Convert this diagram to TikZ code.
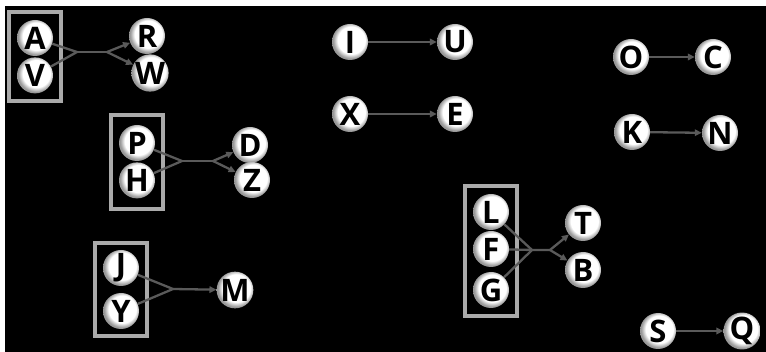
\documentclass[tikz,border=0pt]{standalone}
\usepackage{fontspec}
\setsansfont{Open Sans}
\usetikzlibrary{arrows.meta,positioning,fit}
\definecolor{linkgray}{HTML}{5A5A5A}
\definecolor{boxgray}{HTML}{AAAAAA}
% white ball with a grey rim, lighter towards the upper right
\pgfdeclareradialshading{letterball}{\pgfpoint{3bp}{4bp}}{color(0bp)=(white); color(19bp)=(white); color(25bp)=(black!40); color(50bp)=(black!40)}

\begin{document}
\begin{tikzpicture}[x=1pt,y=-1pt,
  ltr/.style={circle,shading=letterball,minimum size=36pt,inner sep=0pt,font=\sffamily\bfseries\fontsize{31}{31}\selectfont},
  grp/.style={draw=boxgray,line width=4pt,inner sep=7.5pt},
  lnk/.style={draw=linkgray,line width=2.3pt},
  arr/.style={lnk,-{Triangle[length=7pt,width=6.5pt]}}]
\fill[white] (0,0) rectangle (766,352);
\fill[black] (5,6) rectangle (766,352);

% A V -> R W
\node[ltr] (a) at (35,38) {A};
\node[ltr,below=1pt of a] (v) {V};
\node[ltr] (r) at (147,36) {R};
\node[ltr] (w) at (150,73) {W};
\node[grp,fit=(a)(v)] (av) {};
\coordinate (avin) at (77,52);\coordinate (avout) at (107,52);
\draw[lnk](a)--(avin)--(v);\draw[lnk](avin)--(avout);
\draw[arr](avout)--(r);\draw[arr](avout)--(w);

% P H -> D Z
\node[ltr] (p) at (137,143) {P};
\node[ltr,below=1pt of p] (h) {H};
\node[ltr] (d) at (250,145) {D};
\node[ltr] (z) at (252,180) {Z};
\node[grp,fit=(p)(h),inner ysep=10pt] (ph) {};
\coordinate (phin) at (182,161);\coordinate (phout) at (213,161);
\draw[lnk](p)--(phin)--(h);\draw[lnk](phin)--(phout);
\draw[arr](phout)--(d);\draw[arr](phout)--(z);

% J Y -> M
\node[ltr] (j) at (121,268) {J};
\node[ltr] (y) at (121,311) {Y};
\node[ltr] (m) at (235,290) {M};
\node[grp,fit=(j)(y),inner ysep=6.5pt] (jy) {};
\coordinate (jyin) at (173,289);
\draw[lnk](j)--(jyin)--(y);\draw[arr](jyin)--(m);

% single links
\node[ltr] (i) at (350,42) {I};
\node[ltr] (u) at (455,42) {U};
\node[ltr] (x) at (350,114) {X};
\node[ltr] (e) at (455,114) {E};
\node[ltr] (o) at (631,57) {O};
\node[ltr] (c) at (713,57) {C};
\node[ltr] (k) at (632,132) {K};
\node[ltr] (n) at (720,133) {N};
\node[ltr] (s) at (658,331) {S};
\node[ltr] (q) at (742,331) {Q};
\draw[arr](i)--(u);\draw[arr](x)--(e);
\draw[arr](o)--(c);\draw[arr](k)--(n);
\draw[arr](s)--(q);

% L F G -> T B
\node[ltr] (l) at (491,212) {L};
\node[ltr] (f) at (491,249) {F};
\node[ltr] (g) at (491,290) {G};
\node[ltr] (t) at (583,223) {T};
\node[ltr] (b) at (583,270) {B};
\node[grp,fit=(l)(g)] (lfg) {};
\coordinate (lfgin) at (532,250);\coordinate (lfgout) at (550,250);
\draw[lnk](l)--(lfgin)--(g);\draw[lnk](f)--(lfgin)--(lfgout);
\draw[arr](lfgout)--(t);\draw[arr](lfgout)--(b);
\end{tikzpicture}
\end{document}
